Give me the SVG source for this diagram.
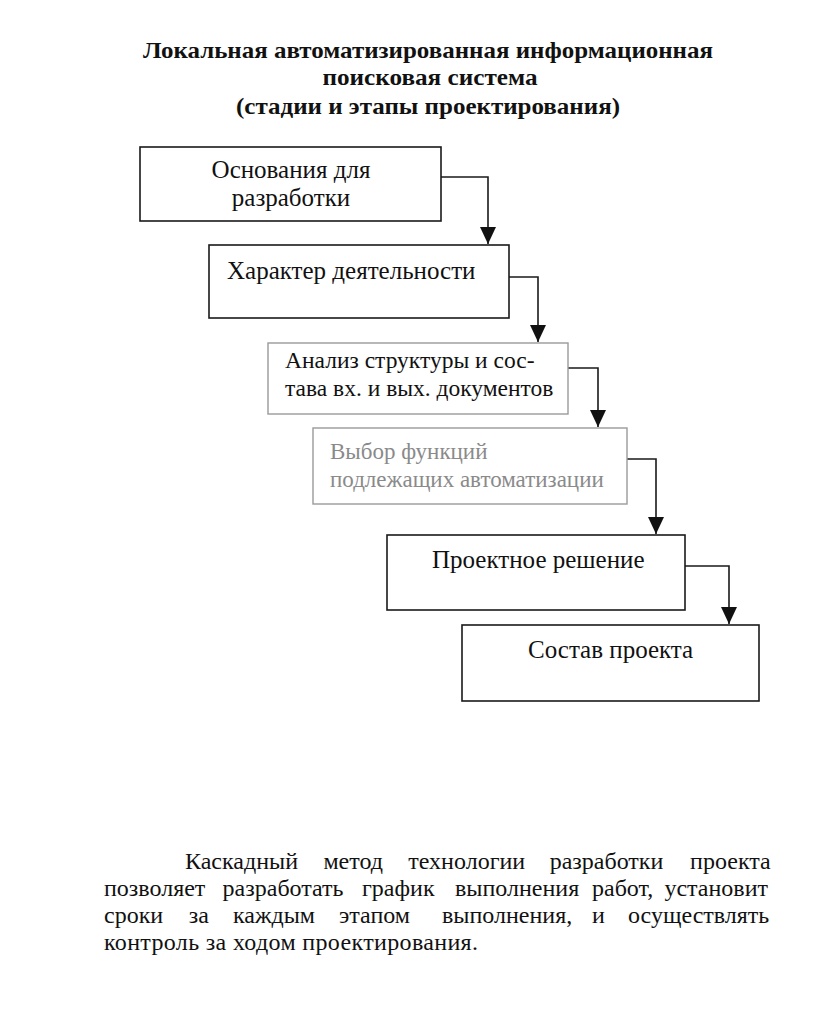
<svg xmlns="http://www.w3.org/2000/svg" width="813" height="1032" viewBox="0 0 813 1032">
<defs>
<style>
.bg{fill:#ffffff}
.title{font-family:"Liberation Serif","Times New Roman",serif;font-weight:bold;font-size:24px;fill:#111;text-anchor:middle}
.box{fill:#ffffff;stroke:#1a1a1a;stroke-width:1.6}
.faded{fill:#ffffff;stroke:#9a9a9a;stroke-width:1.4}
.lbl{font-family:"Liberation Serif","Times New Roman",serif;font-size:25px;fill:#111}
.lbl-sm{font-family:"Liberation Serif","Times New Roman",serif;font-size:23.5px;fill:#111}
.lbl-faded{font-family:"Liberation Serif","Times New Roman",serif;font-size:23px;fill:#8a8a8a}
.conn{fill:none;stroke:#1a1a1a;stroke-width:1.6}
.para{font-family:"Liberation Serif","Times New Roman",serif;font-size:24px;fill:#111}
</style>
<marker id="arrowDown" markerUnits="userSpaceOnUse" markerWidth="17" markerHeight="16" refX="17" refY="8" orient="auto" viewBox="0 0 17 16">
<path d="M0,0 L17,8 L0,16 Z" fill="#111"/>
</marker>
</defs>
<rect class="bg" x="0" y="0" width="813" height="1032"/>

<g id="title">
<text class="title" x="428" y="58" textLength="570" lengthAdjust="spacingAndGlyphs">Локальная автоматизированная информационная</text>
<text class="title" x="430" y="85" textLength="215" lengthAdjust="spacingAndGlyphs">поисковая система</text>
<text class="title" x="428" y="114" textLength="384" lengthAdjust="spacingAndGlyphs">(стадии и этапы проектирования)</text>
</g>

<g id="connectors">
<path class="conn" d="M441,177 H488 V244" marker-end="url(#arrowDown)"/>
<path class="conn" d="M509,277 H538 V342" marker-end="url(#arrowDown)"/>
<path class="conn" d="M568,368 H598 V427" marker-end="url(#arrowDown)"/>
<path class="conn" d="M627,459 H656 V534" marker-end="url(#arrowDown)"/>
<path class="conn" d="M685,566 H729 V624" marker-end="url(#arrowDown)"/>
</g>

<g id="node-osnovaniya">
<rect class="box" x="140" y="147" width="301" height="74"/>
<text class="lbl" x="291" y="178" text-anchor="middle">Основания для</text>
<text class="lbl" x="291" y="206" text-anchor="middle">разработки</text>
</g>

<g id="node-harakter">
<rect class="box" x="209" y="245" width="300" height="73"/>
<text class="lbl" x="227" y="279">Характер деятельности</text>
</g>

<g id="node-analiz">
<rect class="faded" x="268" y="343" width="300" height="71"/>
<text class="lbl-sm" x="285" y="368">Анализ структуры и сос-</text>
<text class="lbl-sm" x="285" y="396" fill="#444">тава вх. и вых. документов</text>
</g>

<g id="node-vybor">
<rect class="faded" x="313" y="428" width="314" height="76"/>
<text class="lbl-faded" x="330" y="459">Выбор функций</text>
<text class="lbl-faded" x="330" y="487">подлежащих автоматизации</text>
</g>

<g id="node-reshenie">
<rect class="box" x="387" y="535" width="298" height="75"/>
<text class="lbl" x="432" y="568">Проектное решение</text>
</g>

<g id="node-sostav">
<rect class="box" x="462" y="625" width="297" height="76"/>
<text class="lbl" x="528" y="658">Состав проекта</text>
</g>

<g id="paragraph">
<text class="para" y="869"><tspan x="185">Каскадный</tspan><tspan x="323.4">метод</tspan><tspan x="408.3">технологии</tspan><tspan x="549.7">разработки</tspan><tspan x="690.1">проекта</tspan></text>
<text class="para" y="896"><tspan x="104">позволяет</tspan><tspan x="222.6">разработать</tspan><tspan x="362">график</tspan><tspan x="455">выполнения</tspan><tspan x="592">работ,</tspan><tspan x="664.4">установит</tspan></text>
<text class="para" y="923"><tspan x="104">сроки</tspan><tspan x="188.7">за</tspan><tspan x="233">каждым</tspan><tspan x="339">этапом</tspan><tspan x="442">выполнения,</tspan><tspan x="592">и</tspan><tspan x="628">осуществлять</tspan></text>
<text class="para" x="104" y="950" textLength="374" lengthAdjust="spacing">контроль за ходом проектирования.</text>
</g>
</svg>
